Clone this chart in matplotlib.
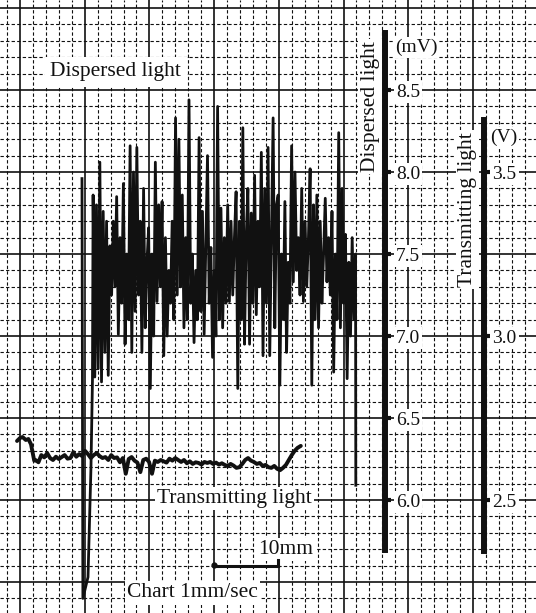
import numpy as np
import matplotlib.pyplot as plt

plt.rcParams['font.family'] = ['Liberation Serif', 'DejaVu Serif']

# chart paper: x in mm of chart, y in mV of the dispersed light scale
X_LIM = (-3.09, 79.75)
Y_LIM = (5.311, 9.049)

# dispersed light trace (mV)
disp_head_t = [9.58, 9.72, 10.51, 10.97, 11.20]
disp_head_mv = [7.96, 5.40, 5.53, 6.20, 6.73]
disp_mv = [
    7.86, 6.75, 7.80, 6.80, 8.06,
    6.72, 7.76, 6.90, 7.70, 6.76,
    7.55, 7.25, 7.70, 7.30,
    7.85, 7.01, 7.60, 7.20,
    7.93, 6.95, 7.50, 7.10,
    8.16, 6.90, 8.00, 7.15,
    8.15, 7.25, 7.70,
    6.90, 7.90, 7.05, 7.45,
    7.66, 6.68, 7.50, 7.00,
    8.06, 7.21, 7.80, 7.30,
    7.82, 6.88, 7.60, 7.00, 7.40,
    7.20, 7.70, 7.10,
    8.33, 7.25, 8.20, 7.30,
    7.86, 7.05, 7.60, 7.10,
    8.44, 7.20,
    7.50, 6.96, 7.40, 7.10,
    8.21, 7.15,
    7.76, 7.01, 7.55,
    8.10, 7.20,
    7.54, 6.87, 7.40, 7.00,
    8.40, 7.10,
    7.78, 7.05, 7.60, 7.20,
    7.80, 7.21, 7.70, 7.25, 7.60,
    7.88, 6.68, 7.70, 7.10,
    8.27, 6.95, 7.60,
    7.90, 6.95, 7.75, 7.20,
    7.98, 7.13, 7.70,
    7.30, 8.12, 6.88, 7.90, 7.20,
    8.15, 6.88, 7.60,
    8.33, 7.05, 7.80,
    7.86, 6.70, 7.50, 7.10,
    7.82, 6.90, 7.45,
    7.20, 8.16, 7.33, 8.00, 7.40, 7.60,
    7.25, 7.90, 7.21, 7.70, 7.30,
    7.60, 8.02, 6.70, 7.80, 7.10,
    7.86, 7.05, 7.70, 7.20, 7.50,
    7.84, 7.33, 7.60, 7.25,
    7.76, 6.78, 7.50, 7.10,
    8.24, 7.05, 7.90, 7.20,
    7.62, 6.74, 7.45, 7.00,
    7.60, 7.10, 7.50,
]
disp_tail_t = [51.90]
disp_tail_mv = [6.09]

# transmitting light trace (V)
trans_head_t = [-0.46, 0.0, 0.4, 0.9, 1.3, 1.7, 2.0, 2.2]
trans_head_v = [2.680, 2.689, 2.692, 2.683, 2.686, 2.670, 2.640, 2.620]
trans_v = [
    2.622, 2.615, 2.637, 2.630, 2.643, 2.628, 2.622, 2.632, 2.625, 2.631,
    2.637, 2.626, 2.628, 2.646, 2.632, 2.640, 2.634, 2.650, 2.640, 2.628,
    2.637, 2.643, 2.634, 2.628, 2.631, 2.622, 2.637, 2.628, 2.630, 2.615,
    2.628, 2.580, 2.625, 2.631, 2.620, 2.614, 2.585, 2.622, 2.626, 2.616,
    2.580, 2.620, 2.616, 2.622, 2.618, 2.614, 2.626, 2.620, 2.628, 2.622,
    2.616, 2.622, 2.612, 2.618, 2.610, 2.615, 2.613, 2.608, 2.616, 2.613,
    2.616, 2.610, 2.614, 2.608, 2.612, 2.607, 2.603, 2.610, 2.605, 2.598,
    2.600, 2.610, 2.622, 2.628, 2.620, 2.616, 2.610, 2.613, 2.604, 2.607,
    2.600, 2.598, 2.604, 2.595, 2.591, 2.598, 2.607, 2.622, 2.637, 2.650, 2.659,
]
trans_tail_t = [43.4]
trans_tail_v = [2.665]

mv_ticks = [6.0, 6.5, 7.0, 7.5, 8.0, 8.5]
mv_labels = ['6.0', '6.5', '7.0', '7.5', '8.0', '8.5']
v_ticks = [2.5, 3.0, 3.5]
v_labels = ['2.5', '3.0', '3.5']

INK = '#111111'
white_box = dict(facecolor='white', edgecolor='none', pad=1.5)

fig = plt.figure(figsize=(5.36, 6.13), dpi=100)
ax = fig.add_axes([0, 0, 1, 1])
ax.set_xlim(*X_LIM)
ax.set_ylim(*Y_LIM)
ax_t = ax.twinx()

# chart paper grid
minor_x = [x for x in np.arange(-2, 81, 2) if x % 10 != 0]
major_x = np.arange(0, 81, 10)
minor_y = [y for y in np.arange(5.3, 9.1, 0.1) if abs(y * 2 - round(y * 2)) > 0.01]
major_y = np.arange(5.5, 9.01, 0.5)
ax.vlines(minor_x, *Y_LIM, colors=INK, lw=0.8, linestyles=(0, (3, 2)), zorder=1)
ax.hlines(minor_y, *X_LIM, colors=INK, lw=0.8, linestyles=(0, (3, 2)), zorder=1)
ax.vlines(major_x, *Y_LIM, colors=INK, lw=1.2, zorder=1)
ax.hlines(major_y, *X_LIM, colors=INK, lw=1.2, zorder=1)

# dispersed light trace
disp_t = np.linspace(11.3, 51.86, len(disp_mv))
t_all = np.concatenate([disp_head_t, disp_t, disp_tail_t])
mv_all = np.concatenate([disp_head_mv, disp_mv, disp_tail_mv])
ax.plot(t_all, mv_all, color=INK, lw=2.0, zorder=3)

# dispersed light scale on the right spine
for side in ['top', 'bottom', 'left']:
    ax.spines[side].set_visible(False)
ax.spines['right'].set_position(('data', 56.4))
ax.spines['right'].set_bounds(5.695, 8.848)
ax.spines['right'].set_linewidth(4.3)
ax.spines['right'].set_color(INK)
ax.set_xticks([])
ax.yaxis.set_ticks_position('right')
ax.set_yticks(mv_ticks)
ax.set_yticklabels(mv_labels)
ax.tick_params(axis='y', direction='out', length=4, width=3, pad=4,
               labelsize=14, colors=INK, left=False, labelleft=False,
               right=True, labelright=True)
for lbl in ax.get_yticklabels():
    lbl.set_bbox(white_box)

# transmitting light scale (V), 0.5 V per 1 mV of the chart
ax_t.set_ylim(3.5 + (Y_LIM[0] - 8.0) / 2, 3.5 + (Y_LIM[1] - 8.0) / 2)
for side in ['top', 'bottom', 'left']:
    ax_t.spines[side].set_visible(False)
ax_t.spines['right'].set_position(('data', 71.7))
ax_t.spines['right'].set_bounds(2.344, 3.659)
ax_t.spines['right'].set_linewidth(4.3)
ax_t.spines['right'].set_color(INK)
ax_t.set_yticks(v_ticks)
ax_t.set_yticklabels(v_labels)
ax_t.tick_params(axis='y', direction='out', length=4, width=3, pad=2,
                 labelsize=14, colors=INK)
for lbl in ax_t.get_yticklabels():
    lbl.set_bbox(white_box)

trans_t = np.linspace(2.4, 42.9, len(trans_v))
tt_all = np.concatenate([trans_head_t, trans_t, trans_tail_t])
v_all = np.concatenate([trans_head_v, trans_v, trans_tail_v])
ax_t.plot(tt_all, v_all, color=INK, lw=2.8, solid_capstyle='round')

# texts
ax.text(14.8, 8.61, 'Dispersed light', fontsize=15.5, ha='center', va='center',
        color=INK, bbox=dict(facecolor='white', edgecolor='none', pad=4), zorder=4)
ax.text(54.1, 8.40, 'Dispersed light', fontsize=15.5, rotation=90,
        ha='center', va='center', color=INK, bbox=white_box, zorder=4)
ax.text(61.2, 8.76, '(mV)', fontsize=14, ha='center', va='center',
        color=INK, bbox=white_box, zorder=4)
ax.text(69.2, 7.77, 'Transmitting light', fontsize=15.5, rotation=90,
        ha='center', va='center', color=INK, bbox=white_box, zorder=4)
ax.text(74.7, 8.21, '(V)', fontsize=14, ha='center', va='center',
        color=INK, bbox=white_box, zorder=4)
ax.text(33.1, 6.01, 'Transmitting light', fontsize=15.5, ha='center',
        va='center', color=INK, bbox=white_box, zorder=4)
ax.text(41.1, 5.70, '10mm', fontsize=15.5, ha='center', va='center',
        color=INK, bbox=white_box, zorder=4)
ax.text(26.6, 5.433, 'Chart 1mm/sec', fontsize=15.5, ha='center', va='center',
        color=INK, bbox=white_box, zorder=4)

# 10 mm scale bar
ax.plot([30.0, 39.9], [5.598, 5.598], color=INK, lw=2.2, zorder=4)
ax.plot([39.9, 39.9], [5.598, 5.635], color=INK, lw=2.2, zorder=4)
ax.plot([30.0], [5.605], marker='o', ms=3.5, color=INK, zorder=4)

fig.savefig('out.png', dpi=100)
